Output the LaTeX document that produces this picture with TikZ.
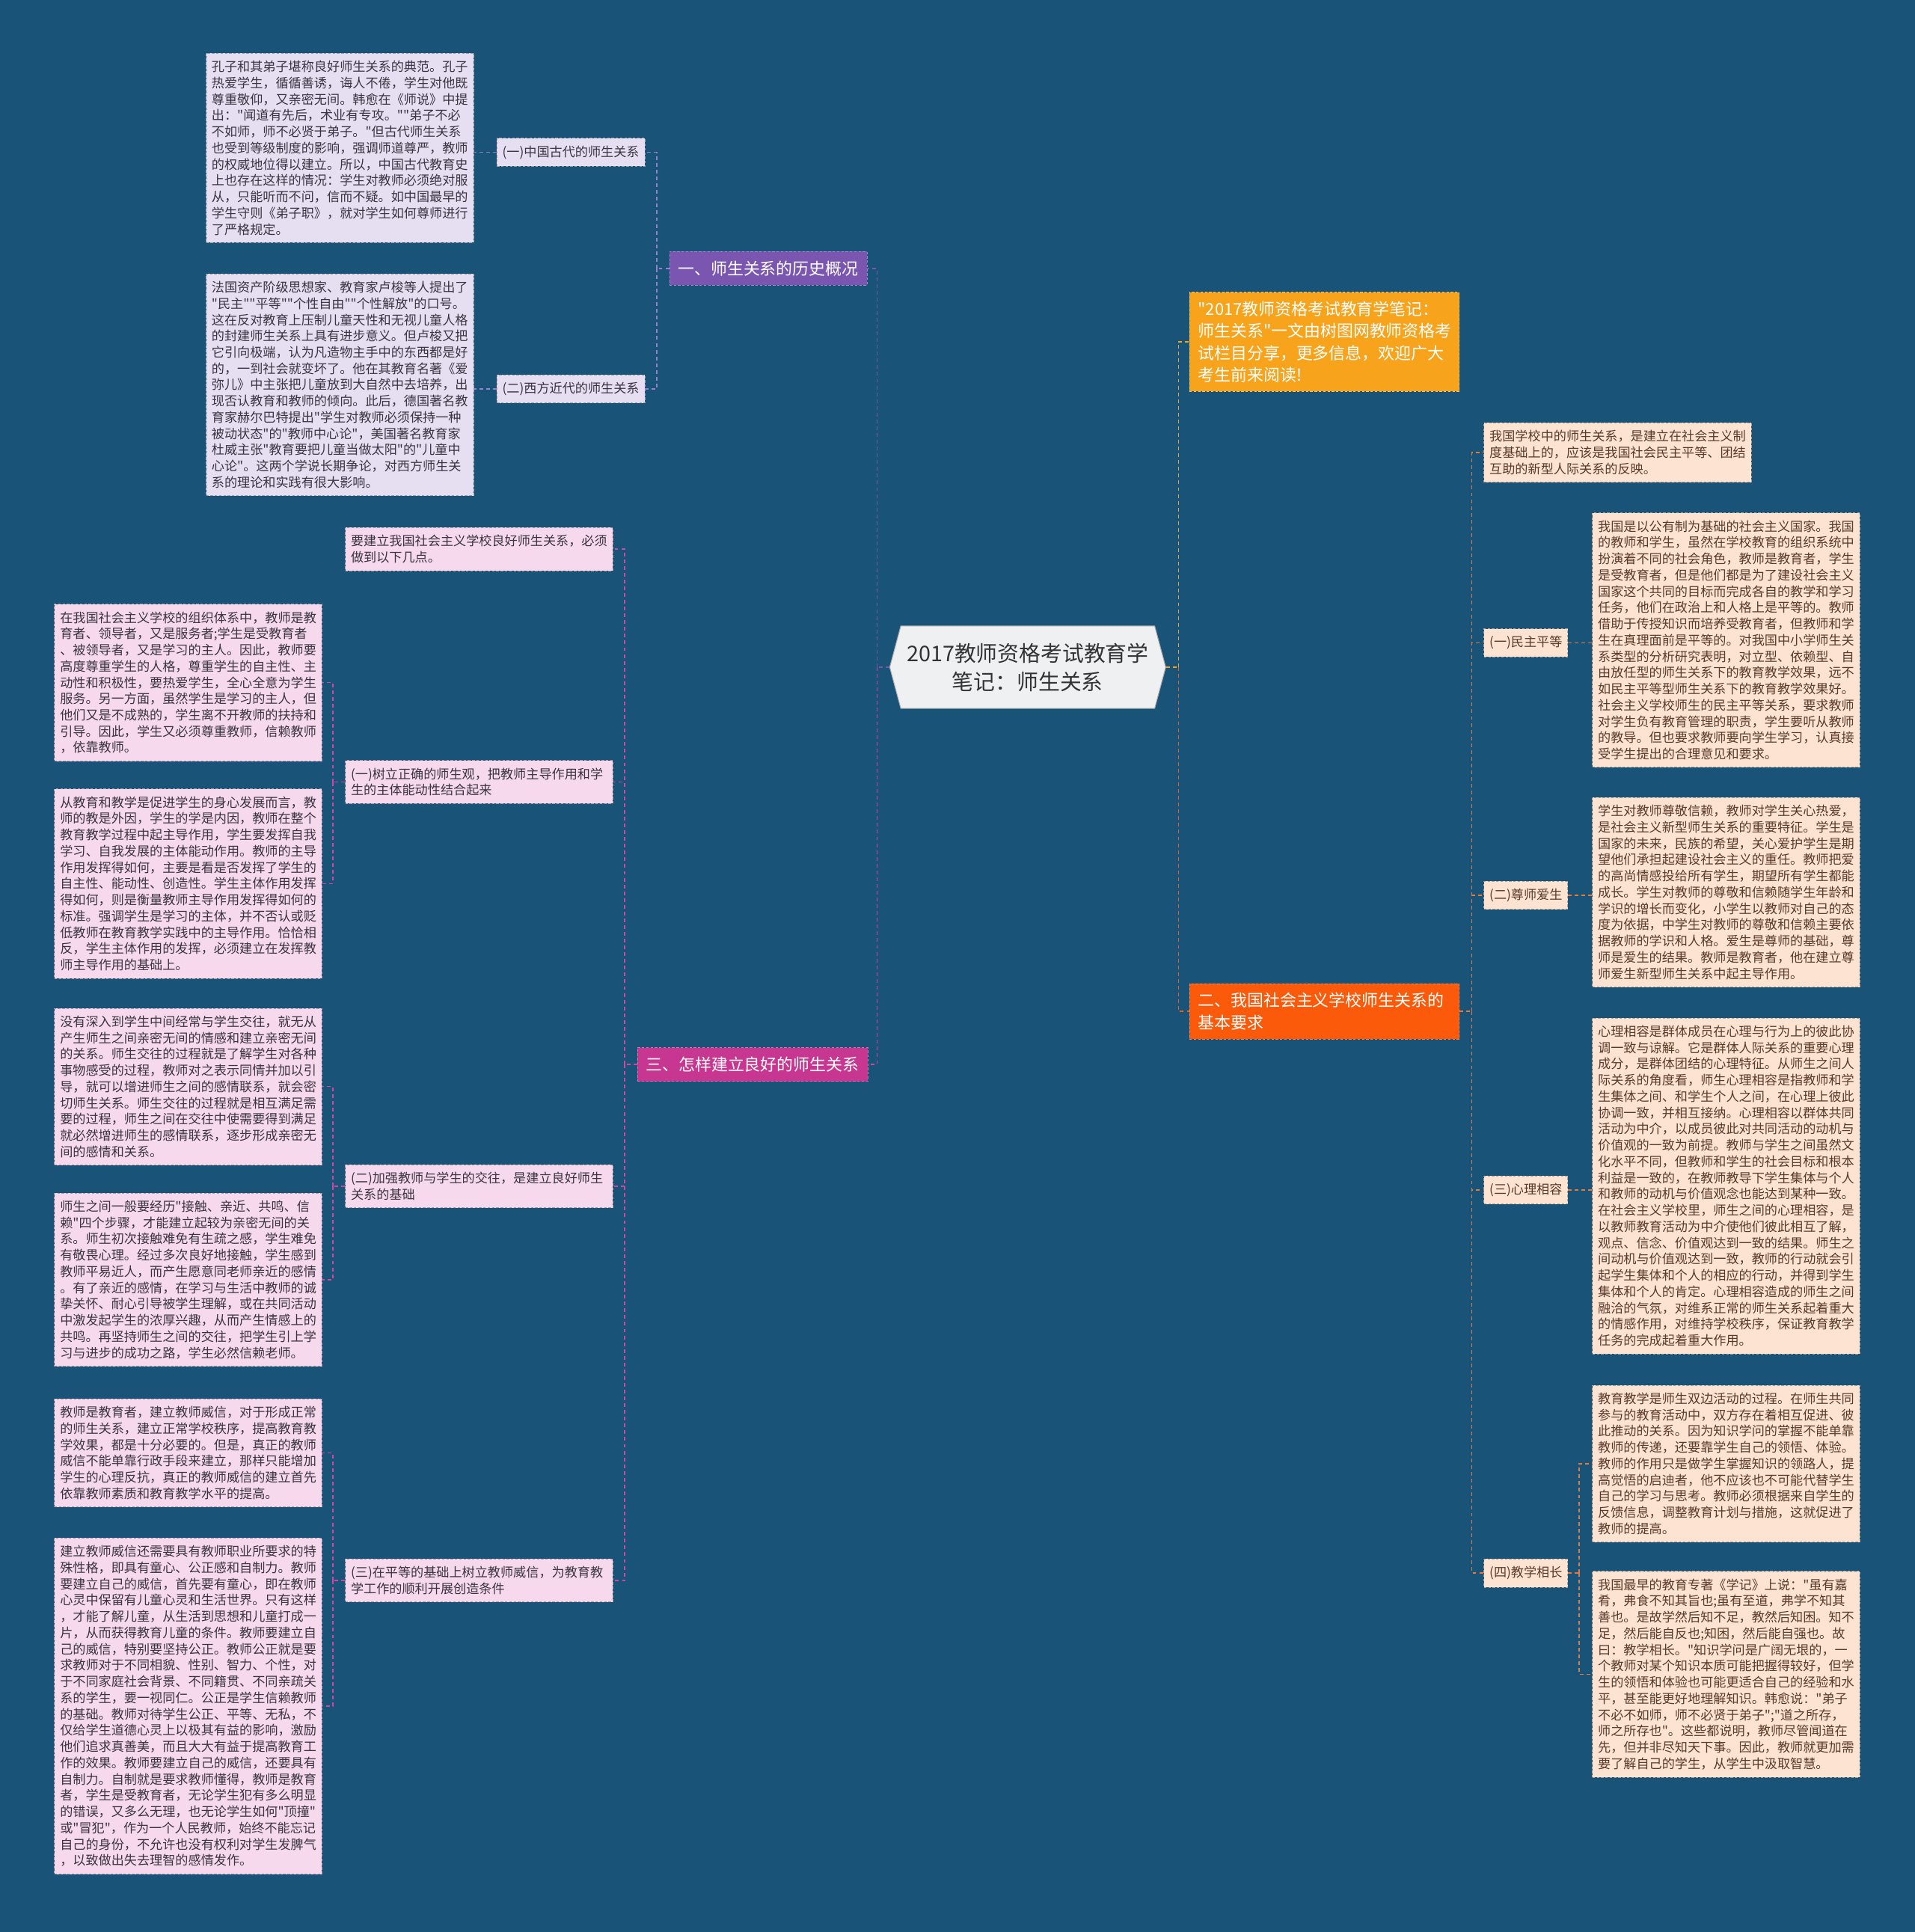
\documentclass[tikz,border=0pt]{standalone}
\usepackage{fontspec}
\newfontfamily\cjk{Noto Sans CJK SC}
\usepackage{tikz}
\usetikzlibrary{shapes.symbols}

\definecolor{bg}{HTML}{1A5378}
\definecolor{hubfill}{HTML}{EEF0F2}
\definecolor{hist}{HTML}{7B56B0}
\definecolor{howto}{HTML}{C73792}
\definecolor{intro}{HTML}{F7A31C}
\definecolor{basic}{HTML}{FA5A0A}
\definecolor{lilac}{HTML}{E6DFF1}
\definecolor{rose}{HTML}{F6D9EC}
\definecolor{peach}{HTML}{FDE3D2}
\definecolor{histline}{HTML}{9A80CC}
\definecolor{howline}{HTML}{D0489E}
\definecolor{basicline}{HTML}{E57A3C}
\definecolor{darktxt}{HTML}{3A3340}
\definecolor{browntxt}{HTML}{5A3A28}

\begin{document}
\begin{tikzpicture}[x=1pt, y=-1pt,
  every node/.style={font=\cjk\fontsize{10.4}{13.2}\selectfont},
  box/.style={draw=#1!70!black, dash pattern=on 2pt off 1.5pt, line width=0.5pt,
    fill=#1, anchor=north west, inner xsep=4.5pt, inner ysep=6pt, text=darktxt},
  textbox/.style={box=#1, text width=208pt, align=left},
  branch/.style={fill=#1, draw=#1!70!white, dash pattern=on 2pt off 1.5pt,
    text=white, anchor=north west, inner xsep=7pt, inner ysep=7.5pt,
    font=\cjk\fontsize{13.3}{17.7}\selectfont},
  hub/.style={signal, signal to=west and east, signal pointer angle=150,
    fill=hubfill, draw=gray!70, line width=0.6pt, align=center, text=black!80,
    minimum width=224pt, minimum height=67pt,
    font=\cjk\fontsize{17.5}{23}\selectfont},
  link/.style={draw=#1, line width=0.9pt, dash pattern=on 3pt off 2.5pt}
]
\useasboundingbox (0,0) rectangle (1554,1568);
\fill[bg] (0,0) rectangle (1554,1568);

% centre
\node[hub] (hub) at (834,541.5) {2017教师资格考试教育学\\笔记：师生关系};

% branches
\node[branch=hist] (b1) at (543,204) {一、师生关系的历史概况};
\node[branch=howto] (b3) at (517,850) {三、怎样建立良好的师生关系};
\node[branch=intro, text width=205pt, align=left] (ob) at (965,237)
  {"2017教师资格考试教育学笔记：\\师生关系"一文由树图网教师资格考\\试栏目分享，更多信息，欢迎广大\\考生前来阅读!};
\node[branch=basic, text width=205pt, align=left] (b2) at (965,798)
  {二、我国社会主义学校师生关系的\\基本要求};

% history
\node[box=lilac] (l11) at (403,112) {(一)中国古代的师生关系};
\node[box=lilac] (l12) at (403,304) {(二)西方近代的师生关系};
\node[textbox=lilac] (t11) at (167,43) {孔子和其弟子堪称良好师生关系的典范。孔子\\
热爱学生，循循善诱，诲人不倦，学生对他既\\
尊重敬仰，又亲密无间。韩愈在《师说》中提\\
出："闻道有先后，术业有专攻。""弟子不必\\
不如师，师不必贤于弟子。"但古代师生关系\\
也受到等级制度的影响，强调师道尊严，教师\\
的权威地位得以建立。所以，中国古代教育史\\
上也存在这样的情况：学生对教师必须绝对服\\
从，只能听而不问，信而不疑。如中国最早的\\
学生守则《弟子职》，就对学生如何尊师进行\\
了严格规定。};
\node[textbox=lilac] (t12) at (167,222) {法国资产阶级思想家、教育家卢梭等人提出了\\
"民主""平等""个性自由""个性解放"的口号。\\
这在反对教育上压制儿童天性和无视儿童人格\\
的封建师生关系上具有进步意义。但卢梭又把\\
它引向极端，认为凡造物主手中的东西都是好\\
的，一到社会就变坏了。他在其教育名著《爱\\
弥儿》中主张把儿童放到大自然中去培养，出\\
现否认教育和教师的倾向。此后，德国著名教\\
育家赫尔巴特提出"学生对教师必须保持一种\\
被动状态"的"教师中心论"，美国著名教育家\\
杜威主张"教育要把儿童当做太阳"的"儿童中\\
心论"。这两个学说长期争论，对西方师生关\\
系的理论和实践有很大影响。};

% how to build
\node[textbox=rose] (l30) at (280,428) {要建立我国社会主义学校良好师生关系，必须\\做到以下几点。};
\node[textbox=rose] (l31) at (280,617) {(一)树立正确的师生观，把教师主导作用和学\\生的主体能动性结合起来};
\node[textbox=rose] (l32) at (280,945) {(二)加强教师与学生的交往，是建立良好师生\\关系的基础};
\node[textbox=rose] (l33) at (280,1265) {(三)在平等的基础上树立教师威信，为教育教\\学工作的顺利开展创造条件};
\node[textbox=rose] (t31a) at (44,490) {在我国社会主义学校的组织体系中，教师是教\\
育者、领导者，又是服务者;学生是受教育者\\
、被领导者，又是学习的主人。因此，教师要\\
高度尊重学生的人格，尊重学生的自主性、主\\
动性和积极性，要热爱学生，全心全意为学生\\
服务。另一方面，虽然学生是学习的主人，但\\
他们又是不成熟的，学生离不开教师的扶持和\\
引导。因此，学生又必须尊重教师，信赖教师\\
，依靠教师。};
\node[textbox=rose] (t31b) at (44,640) {从教育和教学是促进学生的身心发展而言，教\\
师的教是外因，学生的学是内因，教师在整个\\
教育教学过程中起主导作用，学生要发挥自我\\
学习、自我发展的主体能动作用。教师的主导\\
作用发挥得如何，主要是看是否发挥了学生的\\
自主性、能动性、创造性。学生主体作用发挥\\
得如何，则是衡量教师主导作用发挥得如何的\\
标准。强调学生是学习的主体，并不否认或贬\\
低教师在教育教学实践中的主导作用。恰恰相\\
反，学生主体作用的发挥，必须建立在发挥教\\
师主导作用的基础上。};
\node[textbox=rose] (t32a) at (44,818) {没有深入到学生中间经常与学生交往，就无从\\
产生师生之间亲密无间的情感和建立亲密无间\\
的关系。师生交往的过程就是了解学生对各种\\
事物感受的过程，教师对之表示同情并加以引\\
导，就可以增进师生之间的感情联系，就会密\\
切师生关系。师生交往的过程就是相互满足需\\
要的过程，师生之间在交往中使需要得到满足\\
就必然增进师生的感情联系，逐步形成亲密无\\
间的感情和关系。};
\node[textbox=rose] (t32b) at (44,968) {师生之间一般要经历"接触、亲近、共鸣、信\\
赖"四个步骤，才能建立起较为亲密无间的关\\
系。师生初次接触难免有生疏之感，学生难免\\
有敬畏心理。经过多次良好地接触，学生感到\\
教师平易近人，而产生愿意同老师亲近的感情\\
。有了亲近的感情，在学习与生活中教师的诚\\
挚关怀、耐心引导被学生理解，或在共同活动\\
中激发起学生的浓厚兴趣，从而产生情感上的\\
共鸣。再坚持师生之间的交往，把学生引上学\\
习与进步的成功之路，学生必然信赖老师。};
\node[textbox=rose] (t33a) at (44,1135) {教师是教育者，建立教师威信，对于形成正常\\
的师生关系，建立正常学校秩序，提高教育教\\
学效果，都是十分必要的。但是，真正的教师\\
威信不能单靠行政手段来建立，那样只能增加\\
学生的心理反抗，真正的教师威信的建立首先\\
依靠教师素质和教育教学水平的提高。};
\node[textbox=rose] (t33b) at (44,1248) {建立教师威信还需要具有教师职业所要求的特\\
殊性格，即具有童心、公正感和自制力。教师\\
要建立自己的威信，首先要有童心，即在教师\\
心灵中保留有儿童心灵和生活世界。只有这样\\
，才能了解儿童，从生活到思想和儿童打成一\\
片，从而获得教育儿童的条件。教师要建立自\\
己的威信，特别要坚持公正。教师公正就是要\\
求教师对于不同相貌、性别、智力、个性，对\\
于不同家庭社会背景、不同籍贯、不同亲疏关\\
系的学生，要一视同仁。公正是学生信赖教师\\
的基础。教师对待学生公正、平等、无私，不\\
仅给学生道德心灵上以极其有益的影响，激励\\
他们追求真善美，而且大大有益于提高教育工\\
作的效果。教师要建立自己的威信，还要具有\\
自制力。自制就是要求教师懂得，教师是教育\\
者，学生是受教育者，无论学生犯有多么明显\\
的错误，又多么无理，也无论学生如何"顶撞"\\
或"冒犯"，作为一个人民教师，始终不能忘记\\
自己的身份，不允许也没有权利对学生发脾气\\
，以致做出失去理智的感情发作。};

% basic requirements
\node[textbox=peach, text=browntxt] (t20) at (1204,343) {我国学校中的师生关系，是建立在社会主义制\\度基础上的，应该是我国社会民主平等、团结\\互助的新型人际关系的反映。};
\node[box=peach, text=browntxt] (l21) at (1204,510) {(一)民主平等};
\node[box=peach, text=browntxt] (l22) at (1204,715) {(二)尊师爱生};
\node[box=peach, text=browntxt] (l23) at (1204,954) {(三)心理相容};
\node[box=peach, text=browntxt] (l24) at (1204,1265) {(四)教学相长};
\node[textbox=peach, text=browntxt] (t21) at (1292,416) {我国是以公有制为基础的社会主义国家。我国\\
的教师和学生，虽然在学校教育的组织系统中\\
扮演着不同的社会角色，教师是教育者，学生\\
是受教育者，但是他们都是为了建设社会主义\\
国家这个共同的目标而完成各自的教学和学习\\
任务，他们在政治上和人格上是平等的。教师\\
借助于传授知识而培养受教育者，但教师和学\\
生在真理面前是平等的。对我国中小学师生关\\
系类型的分析研究表明，对立型、依赖型、自\\
由放任型的师生关系下的教育教学效果，远不\\
如民主平等型师生关系下的教育教学效果好。\\
社会主义学校师生的民主平等关系，要求教师\\
对学生负有教育管理的职责，学生要听从教师\\
的教导。但也要求教师要向学生学习，认真接\\
受学生提出的合理意见和要求。};
\node[textbox=peach, text=browntxt] (t22) at (1292,647) {学生对教师尊敬信赖，教师对学生关心热爱，\\
是社会主义新型师生关系的重要特征。学生是\\
国家的未来，民族的希望，关心爱护学生是期\\
望他们承担起建设社会主义的重任。教师把爱\\
的高尚情感投给所有学生，期望所有学生都能\\
成长。学生对教师的尊敬和信赖随学生年龄和\\
学识的增长而变化，小学生以教师对自己的态\\
度为依据，中学生对教师的尊敬和信赖主要依\\
据教师的学识和人格。爱生是尊师的基础，尊\\
师是爱生的结果。教师是教育者，他在建立尊\\
师爱生新型师生关系中起主导作用。};
\node[textbox=peach, text=browntxt] (t23) at (1292,826) {心理相容是群体成员在心理与行为上的彼此协\\
调一致与谅解。它是群体人际关系的重要心理\\
成分，是群体团结的心理特征。从师生之间人\\
际关系的角度看，师生心理相容是指教师和学\\
生集体之间、和学生个人之间，在心理上彼此\\
协调一致，并相互接纳。心理相容以群体共同\\
活动为中介，以成员彼此对共同活动的动机与\\
价值观的一致为前提。教师与学生之间虽然文\\
化水平不同，但教师和学生的社会目标和根本\\
利益是一致的，在教师教导下学生集体与个人\\
和教师的动机与价值观念也能达到某种一致。\\
在社会主义学校里，师生之间的心理相容，是\\
以教师教育活动为中介使他们彼此相互了解，\\
观点、信念、价值观达到一致的结果。师生之\\
间动机与价值观达到一致，教师的行动就会引\\
起学生集体和个人的相应的行动，并得到学生\\
集体和个人的肯定。心理相容造成的师生之间\\
融洽的气氛，对维系正常的师生关系起着重大\\
的情感作用，对维持学校秩序，保证教育教学\\
任务的完成起着重大作用。};
\node[textbox=peach, text=browntxt] (t24a) at (1292,1124) {教育教学是师生双边活动的过程。在师生共同\\
参与的教育活动中，双方存在着相互促进、彼\\
此推动的关系。因为知识学问的掌握不能单靠\\
教师的传递，还要靠学生自己的领悟、体验。\\
教师的作用只是做学生掌握知识的领路人，提\\
高觉悟的启迪者，他不应该也不可能代替学生\\
自己的学习与思考。教师必须根据来自学生的\\
反馈信息，调整教育计划与措施，这就促进了\\
教师的提高。};
\node[textbox=peach, text=browntxt] (t24b) at (1292,1275) {我国最早的教育专著《学记》上说："虽有嘉\\
肴，弗食不知其旨也;虽有至道，弗学不知其\\
善也。是故学然后知不足，教然后知困。知不\\
足，然后能自反也;知困，然后能自强也。故\\
曰：教学相长。"知识学问是广阔无垠的，一\\
个教师对某个知识本质可能把握得较好，但学\\
生的领悟和体验也可能更适合自己的经验和水\\
平，甚至能更好地理解知识。韩愈说："弟子\\
不必不如师，师不必贤于弟子";"道之所存，\\
师之所存也"。这些都说明，教师尽管闻道在\\
先，但并非尽知天下事。因此，教师就更加需\\
要了解自己的学生，从学生中汲取智慧。};

% connectors
\draw[link=hist] (hub.west) -- ++(-10,0) coordinate (jl);
\draw[link=hist] (jl) |- (b1.east);
\draw[link=howline] (jl) |- (b3.east);
\draw[link=intro] (hub.east) -- ++(10,0) coordinate (jr);
\draw[link=intro] (jr) |- (ob.west);
\draw[link=basic] (jr) |- (b2.west);

\draw[link=histline] (b1.west) -- ++(-10,0) coordinate (j1);
\draw[link=histline] (j1) |- (l11.east);
\draw[link=histline] (j1) |- (l12.east);
\draw[link=histline] (l11.west) -- (l11.west -| t11.east);
\draw[link=histline] (l12.west) -- (l12.west -| t12.east);

\draw[link=howline] (b3.west) -- ++(-10,0) coordinate (j3);
\foreach \n in {l30,l31,l32,l33}
  \draw[link=howline] (j3) |- (\n.east);
\draw[link=howline] (l31.west) -- ++(-10,0) coordinate (j31);
\draw[link=howline] (j31) |- (t31a.east);
\draw[link=howline] (j31) |- (t31b.east);
\draw[link=howline] (l32.west) -- ++(-10,0) coordinate (j32);
\draw[link=howline] (j32) |- (t32a.east);
\draw[link=howline] (j32) |- (t32b.east);
\draw[link=howline] (l33.west) -- ++(-10,0) coordinate (j33);
\draw[link=howline] (j33) |- (t33a.east);
\draw[link=howline] (j33) |- (t33b.east);

\draw[link=basicline] (b2.east) -- ++(10,0) coordinate (j2);
\foreach \n in {t20,l21,l22,l23,l24}
  \draw[link=basicline] (j2) |- (\n.west);
\draw[link=basicline] (l21.east) -- (l21.east -| t21.west);
\draw[link=basicline] (l22.east) -- (l22.east -| t22.west);
\draw[link=basicline] (l23.east) -- (l23.east -| t23.west);
\draw[link=basicline] (l24.east) -- ++(9,0) coordinate (j24);
\draw[link=basicline] (j24) |- (t24a.west);
\draw[link=basicline] (j24) |- (t24b.west);
\end{tikzpicture}
\end{document}
